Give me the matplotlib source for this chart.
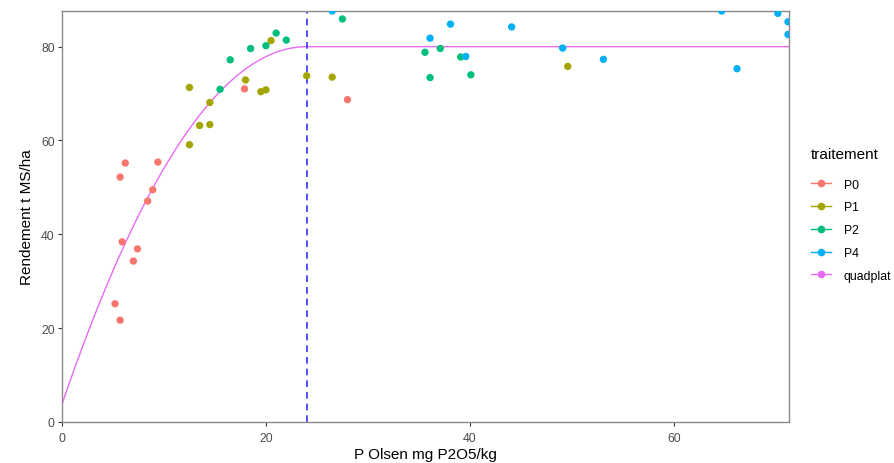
import numpy as np
import matplotlib.pyplot as plt
from matplotlib.lines import Line2D

plt.rcParams['font.family'] = ['Liberation Sans', 'DejaVu Sans']

# P Olsen (mg P2O5/kg) et rendement (t MS/ha) par traitement
p0_x = [5.2, 5.7, 5.9, 7.0, 7.4, 8.4, 8.9, 9.4, 5.7, 6.2, 17.9, 28.0]
p0_y = [25.2, 21.7, 38.4, 34.3, 36.9, 47.1, 49.5, 55.4, 52.2, 55.2, 71.0, 68.7]

p1_x = [12.5, 12.5, 13.5, 14.5, 14.5, 18.0, 19.5, 20.0, 20.5, 24.0, 26.5, 49.6]
p1_y = [71.3, 59.1, 63.2, 63.4, 68.1, 72.9, 70.4, 70.8, 81.3, 73.8, 73.5, 75.8]

p2_x = [15.5, 16.5, 18.5, 20.0, 21.0, 22.0, 27.5, 35.6, 37.1, 36.1, 39.1, 40.1]
p2_y = [70.9, 77.2, 79.6, 80.2, 82.9, 81.4, 85.9, 78.8, 79.6, 73.4, 77.8, 74.0]

p4_x = [26.5, 36.1, 38.1, 39.6, 44.1, 49.1, 53.1, 64.7, 66.2, 70.2, 71.2, 71.2]
p4_y = [87.6, 81.8, 84.8, 77.9, 84.2, 79.7, 77.3, 87.6, 75.3, 87.1, 85.3, 82.6]

# modele quadratique-plateau
intercept = 3.8
jonction = 24.0
plateau = 80.0

groupes = ["P0", "P1", "P2", "P4"]
series = [(p0_x, p0_y), (p1_x, p1_y), (p2_x, p2_y), (p4_x, p4_y)]
couleurs = ["#F8766D", "#A3A500", "#00BF7D", "#00B0F6"]
couleur_modele = "#E76BF3"

k = (plateau - intercept) / jonction ** 2
xs = np.linspace(0, 71.3, 400)
ys = np.where(xs < jonction, plateau - k * (xs - jonction) ** 2, plateau)

fig = plt.figure(figsize=(8.94, 4.64), dpi=100)
ax = fig.add_axes([62 / 894, 1 - 423 / 464, (789 - 62) / 894, (423 - 12) / 464])

ax.plot(xs, ys, color=couleur_modele, lw=1.0, zorder=2)
ax.axvline(jonction, color="#3333FF", lw=1.2, ls=(0, (4, 3)), zorder=2)
for (x, y), c in zip(series, couleurs):
    ax.scatter(x, y, s=28, color=c, edgecolors="none", zorder=3)

ax.set_xlim(0, 71.3)
ax.set_ylim(0, 87.6)
ax.set_xticks([0, 20, 40, 60])
ax.set_yticks([0, 20, 40, 60, 80])
ax.tick_params(colors="#4D4D4D", labelsize=8.8, length=2.8, width=0.8)
ax.tick_params(color="#333333")
ax.tick_params(axis="x", pad=4.5)
ax.tick_params(axis="y", pad=2.5)
for s in ax.spines.values():
    s.set_color("#8a8a8a")
    s.set_linewidth(1.0)

ax.set_xlabel("P Olsen mg P2O5/kg", fontsize=11, labelpad=2)
ax.set_ylabel("Rendement t MS/ha", fontsize=11, labelpad=5)

handles = [Line2D([], [], color=c, marker="o", markersize=4.5, lw=1.0)
           for c in couleurs + [couleur_modele]]
leg = fig.legend(handles, groupes + ["quadplat"], title="traitement",
                 loc="upper left", bbox_to_anchor=(800 / 894, 1 - 137 / 464),
                 frameon=False, fontsize=8.8, title_fontsize=11,
                 handlelength=1.6, handletextpad=1.1, labelspacing=0.88)
leg._legend_box.align = "left"
leg._legend_box.sep = 0.88 * 8.8 + 5

fig.savefig("out.png", dpi=100)
